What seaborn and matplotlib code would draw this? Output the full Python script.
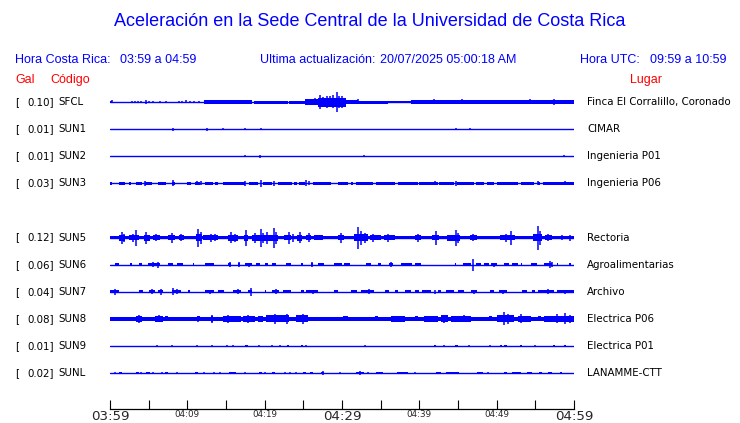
import numpy as np
import pandas as pd
import matplotlib
matplotlib.use("Agg")
import matplotlib.pyplot as plt
import seaborn as sns

# === CONFIG ===
W, H = 740, 423
BLUE = "#0000ff"
RED = "#ff0000"

sns.set_theme(style="white")
plt.rcParams["font.family"] = ["DejaVu Sans"]

# === DATA ===
TITLE = "Aceleración en la Sede Central de la Universidad de Costa Rica"
CODES = ["SFCL", "SUN1", "SUN2", "SUN3", "SUN5", "SUN6", "SUN7", "SUN8", "SUN9", "SUNL"]
GAL = [0.10, 0.01, 0.01, 0.03, 0.12, 0.06, 0.04, 0.08, 0.01, 0.02]
PLACES = ["Finca El Corralillo, Coronado", "CIMAR", "Ingenieria P01", "Ingenieria P06",
          "Rectoria", "Agroalimentarias", "Archivo", "Electrica P06", "Electrica P01",
          "LANAMME-CTT"]
ROWS = [0, 1, 2, 3, 5, 6, 7, 8, 9, 10]
TICK_MIN = [0, 10, 20, 30, 40, 50, 60]
TICK_LABELS = ["03:59", "04:09", "04:19", "04:29", "04:39", "04:49", "04:59"]
MINOR_MIN = [5, 15, 25, 35, 45, 55]

# envelope blocks: (start min, end min, half height px); spikes: (min, half height px)
SFCL_BLOCKS = [(0.0, 0.3, 1.3), (12.2, 18.3, 1.7), (18.6, 23.0, 1.5), (23.2, 25.2, 1.5),
               (25.2, 26.9, 2.8), (26.9, 30.5, 4.5), (30.5, 32.1, 1.7), (32.1, 36.0, 1.5),
               (36.0, 38.9, 1.0), (38.9, 60.0, 1.8)]
SFCL_SPIKES = [(0.2, 1.5), (2.8, 1.0), (3.2, 1.0), (3.6, 1.2), (4.0, 1.0), (4.7, 2.3),
               (5.1, 1.2), (5.6, 1.2), (6.5, 1.2), (7.3, 1.0), (8.9, 1.3), (9.3, 1.3),
               (9.8, 1.5), (10.3, 1.2), (10.8, 1.2), (11.5, 1.2), (26.5, 3.5), (27.2, 7.0),
               (27.6, 4.5), (28.0, 6.0), (28.4, 5.5), (28.8, 6.5), (29.3, 10.0), (29.6, 6.0),
               (30.0, 6.0), (30.4, 4.0), (32.1, 2.5), (41.9, 2.5), (45.5, 2.5), (51.6, 1.8),
               (52.9, 2.3), (53.6, 2.0), (54.3, 2.5), (57.0, 2.3), (57.4, 3.2)]

SUN1_BLOCKS = []
SUN1_SPIKES = [(8.1, 1.5), (12.6, 1.5), (14.6, 1.3), (17.5, 1.3), (19.5, 1.0),
               (44.8, 1.0), (46.5, 1.0)]

SUN2_BLOCKS = []
SUN2_SPIKES = [(17.5, 1.0), (19.4, 1.5), (32.9, 1.0), (58.7, 1.0)]

SUN3_BLOCKS = [(0.0, 0.3, 1.3), (1.1, 1.9, 1.3), (2.4, 2.7, 1.3), (3.4, 4.1, 1.3),
               (4.5, 5.4, 1.3), (6.2, 7.3, 1.3), (8.0, 8.4, 1.3), (9.9, 10.5, 1.3),
               (11.0, 11.6, 1.3), (12.3, 13.3, 1.3), (13.6, 14.0, 1.3), (14.6, 17.4, 1.3),
               (18.0, 19.1, 1.3), (19.8, 20.9, 1.3), (21.7, 23.5, 1.3), (23.8, 24.2, 1.3),
               (24.5, 25.2, 1.3), (26.2, 28.6, 1.3), (29.5, 30.8, 1.3), (31.2, 31.4, 1.3),
               (31.8, 34.0, 1.3), (34.4, 36.8, 1.3), (37.2, 39.8, 1.3), (40.0, 42.4, 1.3),
               (42.6, 44.5, 1.3), (44.9, 47.1, 1.3), (47.3, 48.4, 1.3), (48.8, 49.6, 1.3),
               (50.1, 52.7, 1.3), (53.1, 54.8, 1.3), (55.3, 55.6, 1.3), (56.0, 60.0, 1.3)]
SUN3_SPIKES = [(4.5, 2.3), (8.2, 3.0), (11.2, 2.0), (11.8, 1.8), (17.5, 2.5), (19.5, 3.3),
               (21.2, 2.3), (25.4, 3.0), (25.7, 2.0), (42.0, 2.2), (44.8, 2.3), (55.3, 2.2),
               (58.8, 1.8)]

SUN5_BLOCKS = [(0.0, 60.0, 1.8), (1.1, 2.0, 3.0), (2.4, 3.8, 2.3), (4.4, 5.2, 3.0),
               (5.6, 6.5, 2.5), (7.5, 8.4, 2.8), (8.9, 9.6, 2.6), (11.1, 11.9, 3.5),
               (12.0, 14.0, 2.6), (15.2, 16.6, 3.0), (17.3, 17.9, 3.0), (18.3, 21.7, 3.0),
               (22.5, 23.4, 2.8), (24.2, 24.8, 3.0), (25.4, 26.0, 2.5), (26.4, 27.6, 2.3),
               (29.5, 30.3, 2.6), (31.5, 33.3, 3.5), (33.6, 35.0, 2.6), (35.4, 36.8, 2.6),
               (39.4, 40.2, 2.6), (41.6, 42.6, 2.6), (43.6, 45.2, 3.0), (46.5, 47.5, 2.3),
               (50.4, 52.4, 2.6), (54.7, 55.8, 3.5), (56.3, 57.2, 2.3)]
SUN5_SPIKES = [(1.5, 6.0), (1.8, 4.0), (3.4, 8.0), (3.0, 4.0), (4.7, 6.0), (6.0, 3.5),
               (8.0, 5.0), (9.2, 3.8), (11.4, 9.0), (11.8, 6.0), (13.0, 4.0), (13.6, 3.5),
               (15.6, 5.5), (16.2, 4.0), (17.6, 8.0), (18.8, 5.0), (19.5, 9.0), (19.8, 5.0),
               (20.3, 6.0), (21.2, 10.0), (21.5, 6.0), (23.1, 6.0), (23.6, 4.0), (24.6, 5.5),
               (25.7, 4.5), (29.9, 5.0), (32.1, 11.0), (32.5, 7.0), (33.0, 5.0), (34.0, 4.0),
               (35.9, 4.0), (39.8, 4.0), (42.2, 7.0), (44.7, 8.0), (45.0, 5.0), (47.0, 3.5),
               (51.9, 7.0), (51.2, 4.0), (55.3, 12.0), (55.6, 7.0), (56.7, 3.5), (58.5, 2.8),
               (59.5, 3.0)]

SUN6_BLOCKS = [(0.6, 1.1, 1.3), (2.6, 2.8, 1.3), (3.7, 4.1, 1.3), (4.9, 5.9, 1.3),
               (6.0, 6.5, 1.3), (7.5, 8.1, 1.3), (8.6, 9.5, 1.3), (10.7, 10.9, 1.3),
               (12.3, 13.5, 1.3), (15.3, 15.7, 1.3), (16.5, 16.8, 1.3), (17.4, 18.3, 1.3),
               (18.9, 19.4, 1.3), (20.0, 20.4, 1.3), (20.9, 21.5, 1.3), (22.8, 23.4, 1.3),
               (24.7, 24.9, 1.3), (26.0, 26.3, 1.3), (26.9, 27.7, 1.3), (29.0, 30.0, 1.3),
               (30.3, 31.0, 1.3), (33.1, 33.8, 1.3), (34.6, 35.0, 1.3), (36.1, 36.6, 1.3),
               (37.6, 39.1, 1.3), (39.4, 40.2, 1.3), (44.6, 44.8, 1.3), (45.6, 46.7, 1.3),
               (47.3, 48.0, 1.3), (48.4, 49.0, 1.3), (49.3, 50.0, 1.3), (51.0, 51.6, 1.3),
               (52.0, 52.7, 1.3), (53.1, 53.3, 1.3), (54.4, 55.2, 1.3), (56.1, 57.2, 1.3),
               (57.8, 57.9, 1.3), (59.4, 59.6, 1.3)]
SUN6_SPIKES = [(5.6, 2.5), (6.2, 3.0), (15.5, 2.5), (16.7, 2.3), (18.0, 2.0), (26.1, 2.5),
               (36.3, 2.5), (46.9, 6.0), (49.6, 2.0), (52.6, 1.8), (56.9, 3.5), (57.1, 2.3)]

SUN7_BLOCKS = [(0.0, 1.1, 1.5), (3.7, 4.3, 1.3), (5.0, 5.8, 1.3), (6.2, 6.9, 1.3),
               (8.0, 9.2, 1.3), (10.1, 10.3, 1.3), (12.3, 13.5, 1.3), (14.0, 14.8, 1.3),
               (15.9, 17.0, 1.3), (17.8, 18.3, 1.3), (20.0, 20.2, 1.3), (20.9, 21.9, 1.3),
               (22.4, 23.4, 1.3), (24.7, 25.1, 1.3), (25.4, 26.9, 1.3), (29.0, 29.5, 1.3),
               (31.2, 32.0, 1.3), (32.5, 34.2, 1.3), (35.5, 36.1, 1.3), (36.8, 37.2, 1.3),
               (38.1, 38.9, 1.3), (39.4, 40.0, 1.3), (40.4, 41.5, 1.3), (42.4, 42.8, 1.3),
               (43.4, 44.5, 1.3), (45.0, 45.8, 1.3), (46.7, 47.5, 1.3), (49.1, 49.7, 1.3),
               (50.3, 51.4, 1.3), (53.3, 53.9, 1.3), (54.6, 55.0, 1.3), (55.3, 57.4, 1.3),
               (57.8, 60.0, 1.3)]
SUN7_SPIKES = [(0.6, 3.0), (5.4, 2.5), (6.6, 3.0), (8.2, 3.5), (8.6, 2.3), (12.9, 2.0),
               (16.5, 2.5), (18.2, 4.0), (21.5, 2.3), (26.3, 1.8), (33.5, 2.5), (42.0, 2.0),
               (47.1, 2.0), (50.8, 2.0), (56.7, 2.5), (58.9, 2.0)]

SUN8_BLOCKS = [(0.0, 60.0, 2.0), (3.4, 4.1, 3.3), (5.8, 6.9, 2.8), (7.1, 7.5, 2.6),
               (11.2, 11.6, 2.6), (13.1, 13.3, 3.0), (14.6, 17.0, 3.0), (17.2, 18.7, 3.2),
               (19.2, 19.8, 2.8), (20.2, 23.2, 3.4), (24.1, 25.6, 3.5), (30.1, 30.8, 2.6),
               (34.3, 34.7, 2.6), (36.3, 38.1, 2.8), (39.4, 39.8, 2.6), (40.6, 42.4, 2.8),
               (42.8, 43.7, 3.4), (44.1, 46.7, 2.8), (49.0, 49.4, 2.6), (50.1, 52.3, 3.6),
               (52.7, 54.4, 3.2), (55.3, 55.7, 2.6), (56.1, 60.0, 3.0)]
SUN8_SPIKES = [(3.8, 3.8), (6.3, 3.5), (11.4, 3.0), (13.2, 4.0), (15.2, 4.0), (17.8, 4.2),
               (21.4, 5.0), (22.9, 5.0), (24.9, 5.0), (43.2, 4.0), (45.8, 3.5), (51.0, 6.5),
               (51.5, 5.0), (53.1, 4.5), (57.8, 4.5), (58.9, 5.5), (59.5, 4.0)]

SUN9_BLOCKS = [(17.4, 17.8, 1.2), (22.9, 23.1, 1.2), (24.7, 24.9, 1.2), (41.9, 42.2, 1.2),
               (44.6, 45.0, 1.2), (50.4, 50.7, 1.2), (51.0, 51.3, 1.2), (53.0, 53.3, 1.2),
               (57.3, 57.5, 1.2), (58.7, 59.0, 1.2)]
SUN9_SPIKES = [(6.1, 1.2), (8.0, 1.3), (11.3, 1.3), (13.2, 1.2), (15.1, 1.2), (15.9, 1.2),
               (19.3, 1.3), (21.0, 1.3), (22.0, 1.2), (25.4, 1.3), (33.0, 1.2), (43.2, 1.2),
               (46.4, 1.2), (49.2, 1.2), (54.9, 1.2)]

SUNL_BLOCKS = [(1.1, 1.5, 1.2), (3.4, 3.7, 1.2), (4.7, 5.2, 1.2), (7.1, 7.5, 1.2),
               (11.0, 11.4, 1.2), (15.4, 16.3, 1.2), (19.3, 19.6, 1.2), (20.9, 21.4, 1.2),
               (24.9, 25.4, 1.2), (25.8, 26.2, 1.2), (27.3, 27.7, 1.2), (31.8, 32.9, 1.2),
               (34.4, 35.3, 1.2), (37.1, 38.5, 1.2), (42.2, 42.8, 1.2), (43.4, 45.1, 1.2),
               (47.5, 48.2, 1.2), (51.0, 51.4, 1.2), (52.0, 53.1, 1.2), (53.9, 54.6, 1.2),
               (55.5, 55.9, 1.2), (56.6, 57.2, 1.2), (58.2, 58.5, 1.2)]
SUNL_SPIKES = [(0.6, 1.2), (4.0, 1.2), (5.5, 1.2), (6.7, 1.2), (8.6, 1.2), (12.2, 1.2),
               (13.5, 1.2), (14.2, 1.2), (17.4, 1.2), (20.0, 1.2), (22.6, 1.2), (23.3, 1.2),
               (24.1, 1.2), (27.5, 2.0), (29.7, 1.2), (32.3, 2.3), (33.3, 1.2), (39.4, 1.2),
               (48.9, 1.2)]

BLOCKS = [SFCL_BLOCKS, SUN1_BLOCKS, SUN2_BLOCKS, SUN3_BLOCKS, SUN5_BLOCKS,
          SUN6_BLOCKS, SUN7_BLOCKS, SUN8_BLOCKS, SUN9_BLOCKS, SUNL_BLOCKS]
SPIKES = [SFCL_SPIKES, SUN1_SPIKES, SUN2_SPIKES, SUN3_SPIKES, SUN5_SPIKES,
          SUN6_SPIKES, SUN7_SPIKES, SUN8_SPIKES, SUN9_SPIKES, SUNL_SPIKES]

# === LAYOUT (pixels) ===
ROW0_Y, ROW_DY = 102, 27.1
AX_L, AX_R, AX_T, AX_B = 110, 574, 88, 409


def fx(x):
    return x / W


def fy(y):
    return 1 - y / H


fig = plt.figure(figsize=(W / 100, H / 100), dpi=100)
ax = fig.add_axes([fx(AX_L), fy(AX_B), (AX_R - AX_L) / W, (AX_B - AX_T) / H])

centers = [ROW0_Y + ROW_DY * r for r in ROWS]

# baselines
base_df = pd.DataFrame({
    "t": [0, 60] * len(CODES),
    "y": [c for c in centers for _ in range(2)],
    "code": [c for c in CODES for _ in range(2)],
})
sns.lineplot(data=base_df, x="t", y="y", units="code", estimator=None,
             color=BLUE, lw=1.0, ax=ax, legend=False)

for c, blocks, spikes in zip(centers, BLOCKS, SPIKES):
    for t0, t1, hw in blocks:
        ax.bar(t0, 2 * hw, width=t1 - t0, bottom=c - hw, align="edge",
               color=BLUE, linewidth=0)
    if spikes:
        st = [s[0] for s in spikes]
        sa = np.array([s[1] for s in spikes])
        ax.vlines(st, c - sa, c + sa, color=BLUE, lw=1.1)

ax.set_xlim(0, 60)
ax.set_ylim(AX_B, AX_T)
ax.set_xlabel("")
ax.set_ylabel("")
ax.set_yticks([])
ax.set_xticks(TICK_MIN)
ax.set_xticks(MINOR_MIN, minor=True)
ax.set_xticklabels(TICK_LABELS)
ax.tick_params(axis="x", which="both", direction="in", length=6.5, width=0.8,
               color="black", pad=0.5, bottom=True)
for i, lab in enumerate(ax.get_xticklabels()):
    lab.set_fontsize(9.6 if i % 3 == 0 else 6.3)
sns.despine(ax=ax, left=True, top=True, right=True)
ax.spines["bottom"].set_color("black")
ax.spines["bottom"].set_linewidth(0.9)
ax.set_facecolor("white")

# === TEXTS ===
hf = ["Liberation Sans", "DejaVu Sans"]
fig.text(0.5, fy(22), TITLE, ha="center", va="center", color=BLUE, fontsize=13, family=hf)
fig.text(fx(15), fy(60), "Hora Costa Rica:", va="center", color=BLUE, fontsize=9, family=hf)
fig.text(fx(120), fy(60), "03:59 a 04:59", va="center", color=BLUE, fontsize=9, family=hf)
fig.text(fx(260), fy(60), "Ultima actualización:", va="center", color=BLUE, fontsize=9, family=hf)
fig.text(fx(380), fy(60), "20/07/2025 05:00:18 AM", va="center", color=BLUE, fontsize=9, family=hf)
fig.text(fx(580), fy(60), "Hora UTC:", va="center", color=BLUE, fontsize=9, family=hf)
fig.text(fx(650), fy(60), "09:59 a 10:59", va="center", color=BLUE, fontsize=9, family=hf)
fig.text(fx(15), fy(80), "Gal", va="center", color=RED, fontsize=9, family=hf)
fig.text(fx(50), fy(80), "Código", va="center", color=RED, fontsize=9, family=hf)
fig.text(fx(630), fy(80), "Lugar", va="center", color=RED, fontsize=9, family=hf)

for c, g, code, place in zip(centers, GAL, CODES, PLACES):
    fig.text(fx(15), fy(c), "[", va="center", color="black", fontsize=7.4)
    fig.text(fx(27), fy(c), f"{g:.2f}]", va="center", color="black", fontsize=7.4)
    fig.text(fx(58), fy(c), code, va="center", color="black", fontsize=7.4)
    fig.text(fx(587), fy(c), place, va="center", color="black", fontsize=7.4)

fig.savefig("out.png", dpi=100)
